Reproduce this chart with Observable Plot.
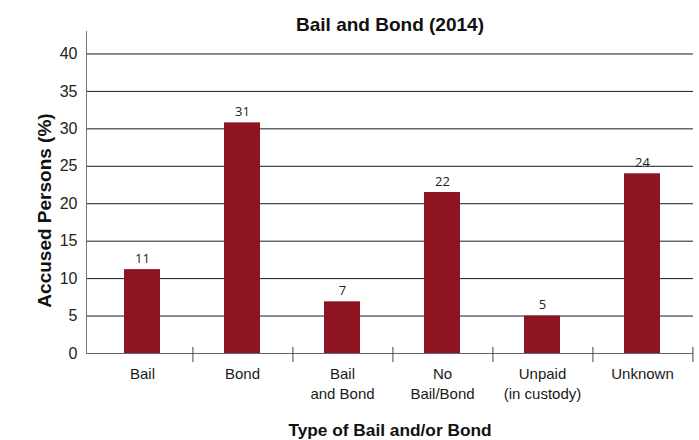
<!DOCTYPE html>
<html><head><meta charset="utf-8">
<script src="https://cdn.jsdelivr.net/npm/d3@7"></script>
<script src="https://cdn.jsdelivr.net/npm/@observablehq/plot@0.6"></script>
<style>body{margin:0;background:#fff} svg{display:block}</style>
</head><body><div id="chart"></div>
<script>
const categories = ["Bail", "Bond", "Bail\nand Bond", "No\nBail/Bond", "Unpaid\n(in custody)", "Unknown"];
const values = [11.2, 30.8, 6.9, 21.5, 5.0, 24.0];
const valueLabels = ["11", "31", "7", "22", "5", "24"];
const yTicks = [0, 5, 10, 15, 20, 25, 30, 35, 40];
const gridTicks = [5, 10, 15, 20, 25, 30, 35, 40];
const title = "Bail and Bond (2014)";
const xTitle = "Type of Bail and/or Bond";
const yTitle = "Accused Persons (%)";

const data = categories.map((c, i) => ({category: c, value: values[i], label: valueLabels[i]}));
const xRange = [89, 694];
const bw = (xRange[1] - xRange[0]) / categories.length;

const chart = Plot.plot({
  width: 699, height: 440,
  marginLeft: 86, marginRight: 6, marginTop: 31, marginBottom: 87,
  style: {fontFamily: "'Liberation Sans', Arial, sans-serif", background: "#fff", color: "#222"},
  x: {type: "band", domain: categories, range: xRange, padding: 0, axis: null},
  y: {domain: [0, 43]},
  marks: [
    Plot.ruleY(gridTicks, {stroke: "#1a1a1a", strokeWidth: 1}),
    Plot.barY(data, {x: "category", y: "value", fill: "#8f1421", insetLeft: 32, insetRight: 32}),
    Plot.ruleY([0], {stroke: "#666"}),
    Plot.frame({anchor: "left", stroke: "#777"}),
    Plot.ruleX(categories, {x: d => d, y1: 0, y2: 0, dx: bw / 2, insetTop: -6, insetBottom: -9, stroke: "#444"}),
    Plot.axisY({ticks: yTicks, tickSize: 0, tickPadding: 9, fontSize: 16, label: null, fill: "#222"}),
    Plot.text(categories, {x: d => d, frameAnchor: "bottom", dy: 11, lineAnchor: "top", lineHeight: 1.33, fontSize: 15, fill: "#1a1a1a"}),
    Plot.text(data, {x: "category", y: "value", text: "label", dy: -11, lineAnchor: "middle", fontFamily: "'Open Sans', sans-serif", fontSize: 13, fill: "#222"}),
    Plot.text([title], {frameAnchor: "top", dy: -7, lineAnchor: "middle", fontWeight: "bold", fontSize: 19, fill: "#111"}),
    Plot.text([xTitle], {frameAnchor: "bottom", dy: 77, lineAnchor: "middle", fontWeight: "bold", fontSize: 17.3, fill: "#111"}),
    Plot.text([yTitle], {frameAnchor: "left", dx: -42, dy: 18, rotate: -90, textAnchor: "middle", lineAnchor: "middle", fontWeight: "bold", fontSize: 19, fill: "#111"})
  ]
});
document.getElementById("chart").append(chart);
</script>
</body></html>
